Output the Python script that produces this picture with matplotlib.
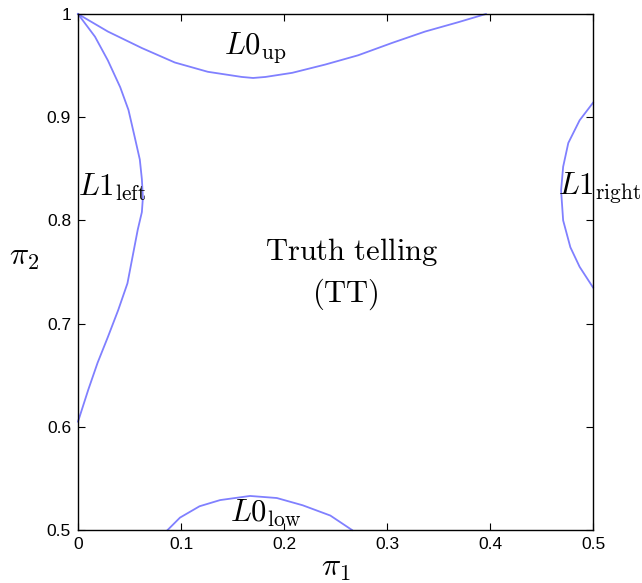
import matplotlib
matplotlib.use("Agg")
import matplotlib.pyplot as plt
from matplotlib.ticker import FixedLocator, FixedFormatter

plt.rcParams['mathtext.fontset'] = 'cm'

# boundary curves
l0_up_x = [0.0, 0.029, 0.062, 0.094, 0.126, 0.159, 0.170, 0.182, 0.208, 0.240,
           0.272, 0.305, 0.337, 0.369, 0.396]
l0_up_y = [1.0, 0.983, 0.967, 0.953, 0.944, 0.939, 0.938, 0.939, 0.943, 0.951,
           0.960, 0.972, 0.983, 0.992, 1.0]

l1_left_x = [0.0, 0.0165, 0.029, 0.041, 0.049, 0.055, 0.060, 0.062, 0.063, 0.062,
             0.058, 0.053, 0.048, 0.039, 0.029, 0.019, 0.010, 0.0]
l1_left_y = [1.0, 0.978, 0.955, 0.929, 0.907, 0.881, 0.859, 0.840, 0.822, 0.808,
             0.791, 0.765, 0.739, 0.713, 0.687, 0.662, 0.636, 0.605]

l1_right_x = [0.500, 0.487, 0.476, 0.471, 0.469, 0.471, 0.478, 0.487, 0.500]
l1_right_y = [0.914, 0.897, 0.875, 0.852, 0.829, 0.800, 0.774, 0.755, 0.735]

l0_low_x = [0.087, 0.099, 0.118, 0.138, 0.167, 0.193, 0.218, 0.245, 0.266]
l0_low_y = [0.500, 0.512, 0.523, 0.529, 0.533, 0.531, 0.524, 0.514, 0.500]

xticks = [0, 0.1, 0.2, 0.3, 0.4, 0.5]
xtick_labels = ["0", "0.1", "0.2", "0.3", "0.4", "0.5"]
yticks = [0.5, 0.6, 0.7, 0.8, 0.9, 1.0]
ytick_labels = ["0.5", "0.6", "0.7", "0.8", "0.9", "1"]

fig = plt.figure(figsize=(6.42, 5.83), dpi=100)
ax = fig.add_axes([0.1215, 0.0909, 0.8022, 0.8851])

col = "#8080ff"
for xs, ys in [(l0_up_x, l0_up_y), (l1_left_x, l1_left_y),
               (l1_right_x, l1_right_y), (l0_low_x, l0_low_y)]:
    ax.plot(xs, ys, color=col, lw=1.3, clip_on=False)

ax.set_xlim(0, 0.5)
ax.set_ylim(0.5, 1.0)
ax.xaxis.set_major_locator(FixedLocator(xticks))
ax.xaxis.set_major_formatter(FixedFormatter(xtick_labels))
ax.yaxis.set_major_locator(FixedLocator(yticks))
ax.yaxis.set_major_formatter(FixedFormatter(ytick_labels))
ax.tick_params(direction="in", top=True, right=True, length=5, width=0.8,
               labelsize=12.5, pad=5)
for lab in ax.get_xticklabels() + ax.get_yticklabels():
    lab.set_family("Liberation Sans")
for s in ax.spines.values():
    s.set_linewidth(1.0)

ax.set_xlabel(r"$\pi_1$", fontsize=23, labelpad=0)
ax.set_ylabel(r"$\pi_2$", fontsize=23, rotation=0, labelpad=16)

fs = 22
ax.text(0.172, 0.968, r"$L0_{\rm up}$", fontsize=fs, ha="center", va="center")
ax.text(0.0, 0.832, r"$L1_{\rm left}$", fontsize=fs, ha="left", va="center")
ax.text(0.466, 0.832, r"$L1_{\rm right}$", fontsize=fs, ha="left", va="center",
        clip_on=False)
ax.text(0.182, 0.516, r"$L0_{\rm low}$", fontsize=fs, ha="center", va="center")
ax.text(0.2655, 0.769, r"$\rm Truth\ telling$", fontsize=fs, ha="center", va="center")
ax.text(0.2595, 0.728, r"$\rm (TT)$", fontsize=fs, ha="center", va="center")

fig.savefig("out.png", dpi=100)
